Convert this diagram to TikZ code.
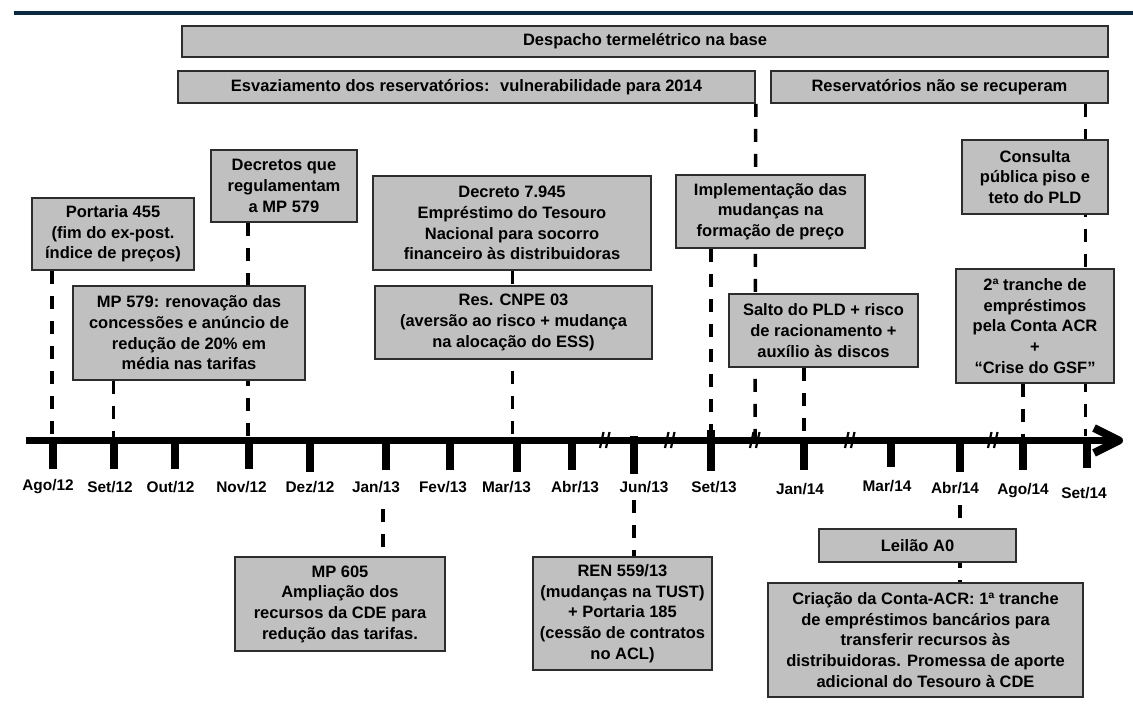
\documentclass[tikz,border=0pt]{standalone}
\usepackage{fontspec}
\setmainfont{Liberation Sans}
\usetikzlibrary{backgrounds}
\definecolor{boxfill}{RGB}{192,192,192}
\definecolor{boxline}{RGB}{45,45,45}
\definecolor{navyrule}{RGB}{10,42,68}
\begin{document}
\begin{tikzpicture}[x=1pt,y=-1pt,
  every node/.style={font=\bfseries\fontsize{16.5}{20.7}\selectfont, inner sep=0pt},
  box/.style={draw=boxline, fill=boxfill, line width=1.6pt, align=center},
  dashline/.style={line width=3.5pt, dash pattern=on 13pt off 12pt},
  tickmark/.style={line width=7.5pt},
  tlabel/.style={font=\bfseries\fontsize{15.4}{18}\selectfont},
  breakmark/.style={line width=2.2pt},
]
\useasboundingbox (0,0) rectangle (1133,705);

% top rule
\draw[navyrule, line width=4pt] (14,13) -- (1133,13);

% boxes above
\node[box, minimum width=926pt, minimum height=31pt] (despacho) at (645,41.5) {Despacho termelétrico na base};
\node[box, minimum width=577pt, minimum height=32pt] (esvaz) at (466.5,87) {Esvaziamento dos reservatórios:~ vulnerabilidade para 2014};
\node[box, minimum width=337pt, minimum height=32pt] (reserv) at (939.5,87) {Reservatórios não se recuperam};

\node[box, minimum width=162pt, minimum height=72pt] (portaria) at (113,234) {Portaria 455\\(fim do ex-post.\\índice de preços)};
\node[box, minimum width=146pt, minimum height=72pt] (decretos) at (284,186) {Decretos que\\regulamentam\\a MP 579};
\node[box, minimum width=232pt, minimum height=94pt] (mp579) at (189,333) {MP 579: renovação das\\concessões e anúncio de\\redução de 20\% em\\média nas tarifas};
\node[box, minimum width=278pt, minimum height=94pt] (dec7945) at (512,223) {Decreto 7.945\\Empréstimo do Tesouro\\Nacional para socorro\\financeiro às distribuidoras};
\node[box, minimum width=277pt, minimum height=73pt] (cnpe) at (513.5,322.5) {Res. CNPE 03\\(aversão ao risco + mudança\\na alocação do ESS)};
\node[box, minimum width=189pt, minimum height=73pt] (implem) at (770.5,211.5) {Implementação das\\mudanças na\\formação de preço};
\node[box, minimum width=189pt, minimum height=73pt] (salto) at (823.5,330.5) {Salto do PLD + risco\\de racionamento +\\auxílio às discos};
\node[box, minimum width=146pt, minimum height=74pt] (consulta) at (1035,177) {Consulta\\pública piso e\\teto do PLD};
\node[box, minimum width=158pt, minimum height=114pt] (tranche) at (1035,326) {2ª tranche de\\empréstimos\\pela Conta ACR\\+\\“Crise do GSF”};

% boxes below
\node[box, minimum width=210pt, minimum height=94pt] (mp605) at (340,604) {MP 605\\Ampliação dos\\recursos da CDE para\\redução das tarifas.};
\node[box, minimum width=179pt, minimum height=113pt] (ren) at (622.5,613.5) {REN 559/13\\(mudanças na TUST)\\+ Portaria 185\\(cessão de contratos\\no ACL)};
\node[box, minimum width=197pt, minimum height=33pt] (leilao) at (917.5,545.5) {Leilão A0};
\node[box, minimum width=315pt, minimum height=114pt] (criacao) at (925.5,640) {Criação da Conta-ACR: 1ª tranche\\de empréstimos bancários para\\transferir recursos às\\distribuidoras. Promessa de aporte\\adicional do Tesouro à CDE};

% timeline points
\coordinate (tAgo12) at (52,440.5);
\coordinate (tSet12) at (113.5,440.5);
\coordinate (tNov12) at (248,440.5);
\coordinate (tMar13) at (512.5,440.5);
\coordinate (tSet13) at (711,440.5);
\coordinate (tBrk) at (755,440.5);
\coordinate (tJan14) at (804,440.5);
\coordinate (tAgo14) at (1023,440.5);
\coordinate (tSet14) at (1085.5,436);
\coordinate (dJan13) at (383,509);
\coordinate (dJun13) at (634,500);
\coordinate (dAbr14) at (960,505);

% dashed connectors (behind the boxes)
\begin{scope}[on background layer]
\draw[dashline] (portaria.south -| tAgo12) -- (tAgo12);
\draw[dashline] (mp579.south -| tSet12) -- (tSet12);
\draw[dashline] (decretos.south -| tNov12) -- (tNov12);
\draw[dashline] (dec7945.south -| tMar13) -- (tMar13);
\draw[dashline] (implem.south -| tSet13) -- (tSet13);
\draw[dashline] (esvaz.south east) -- (tBrk);
\draw[dashline] (salto.south -| tJan14) -- (tJan14);
\draw[dashline] (tranche.south -| tAgo14) -- (tAgo14);
\draw[dashline] (reserv.south -| tSet14) -- (tSet14);
\draw[dashline] (dJan13) -- (mp605.north -| dJan13);
\draw[dashline] (dJun13) -- (ren.north -| dJun13);
\draw[dashline] (dAbr14) -- (criacao.north -| dAbr14);
\end{scope}

% timeline
\draw[line width=7.5pt] (26,440.5) -- (1117,440.5);
\draw[line width=8pt, line join=round] (1094,428) -- (1119,440.5) -- (1094,453);

% ticks
\foreach \x/\yb in {53/469,114/469,175/469,249/469,310/472,386/470,450/470,517/472,572/470,634/474,711/471,804/470,891/467,960/472,1023/470,1087/468}
  \draw[tickmark] (\x,440.5) -- (\x,\yb);
\draw[tickmark] (634,436) -- (634,442);
\draw[tickmark] (711,430) -- (711,442);

% break marks
\foreach \x in {605,670,755,850,993}{
  \draw[breakmark] (\x-5,448) -- (\x-1.5,432);
  \draw[breakmark] (\x+1,448) -- (\x+4.5,432);
}

% month labels
\node[tlabel] (lAgo12) at (48,487) {Ago/12};
\node[tlabel] (lSet12) at (110,487) {Set/12};
\node[tlabel] (lOut12) at (170.5,487) {Out/12};
\node[tlabel] (lNov12) at (241.5,487) {Nov/12};
\node[tlabel] (lDez12) at (310,487) {Dez/12};
\node[tlabel] (lJan13) at (376,487) {Jan/13};
\node[tlabel] (lFev13) at (443,487) {Fev/13};
\node[tlabel] (lMar13) at (506.5,487) {Mar/13};
\node[tlabel] (lAbr13) at (575,487) {Abr/13};
\node[tlabel] (lJun13) at (644,487) {Jun/13};
\node[tlabel] (lSet13) at (714,487) {Set/13};
\node[tlabel] (lJan14) at (800,489) {Jan/14};
\node[tlabel] (lMar14) at (887,486) {Mar/14};
\node[tlabel] (lAbr14) at (955,488) {Abr/14};
\node[tlabel] (lAgo14) at (1023,491) {Ago/14};
\node[tlabel] (lSet14) at (1084,493) {Set/14};
\end{tikzpicture}
\end{document}
